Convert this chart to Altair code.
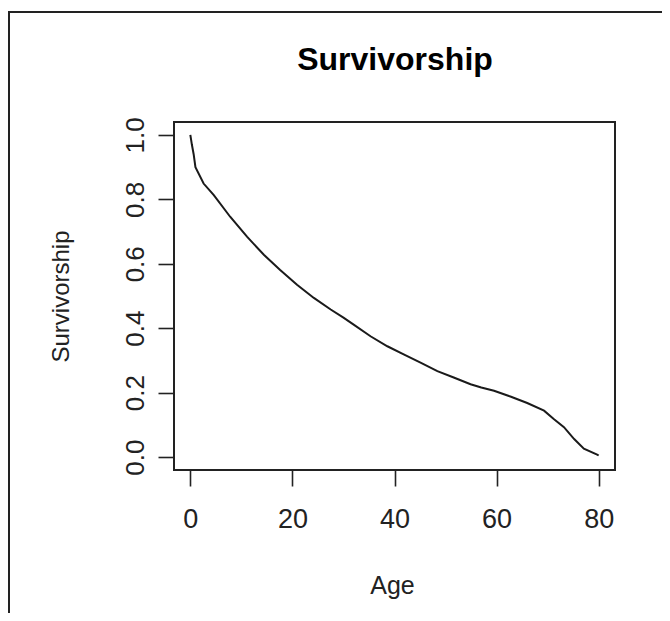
import altair as alt
import pandas as pd

# ---- data ----
ages = [0, 0.3, 0.65, 1.0, 2.6, 4.6, 7.8, 11.1, 14.4, 17.6, 20.9, 24.2, 27.5,
        30.0, 32.0, 35.3, 38.6, 41.8, 45.1, 48.4, 51.6, 54.9, 57.0, 59.5,
        62.7, 66.0, 69.3, 71.2, 73.2, 75.2, 77.1, 79.7, 80.0]
survivorship = [1.0, 0.97, 0.94, 0.90, 0.849, 0.813, 0.746, 0.684, 0.628,
                0.581, 0.535, 0.494, 0.458, 0.433, 0.411, 0.375, 0.344, 0.319,
                0.293, 0.267, 0.247, 0.226, 0.216, 0.206, 0.188, 0.168, 0.144,
                0.118, 0.093, 0.056, 0.026, 0.008, 0.005]
x_ticks = [0, 20, 40, 60, 80]
y_ticks = [0.0, 0.2, 0.4, 0.6, 0.8, 1.0]
chart_title = "Survivorship"
x_title = "Age"
y_title = "Survivorship"

df = pd.DataFrame({"Age": ages, "Survivorship": survivorship})
frame_df = pd.DataFrame({"k": [0]})

W, H = 441, 348
PL, PT, PR, PB = 166, 114, 47, 143
FONT = "Liberation Sans"

line = alt.Chart(df).mark_line(color="#1a1a1a", strokeWidth=2).encode(
    x=alt.X(
        "Age:Q",
        scale=alt.Scale(domain=[-3.2, 83.2], nice=False, zero=False),
        axis=alt.Axis(
            values=x_ticks, title=x_title, format="d",
            labelFontSize=27, labelPadding=20, labelColor="#222",
            titleFontSize=25, titleColor="#222", titleFontWeight="normal",
            titleBaseline="alphabetic", titleX=218, titleY=123, titleAlign="center",
        ),
    ),
    y=alt.Y(
        "Survivorship:Q",
        scale=alt.Scale(domain=[-0.04, 1.04], nice=False, zero=False),
        axis=alt.Axis(
            values=y_ticks, title=y_title, format=".1f",
            labelAngle=270, labelAlign="center", labelBaseline="alphabetic",
            labelFontSize=26, labelPadding=15, labelColor="#222",
            titleFontSize=24, titleColor="#222", titleFontWeight="normal",
            titleAngle=270, titleBaseline="alphabetic", titleAlign="center",
            titleX=-106, titleY=174,
        ),
    ),
)

title_mark = alt.Chart(frame_df).mark_text(
    font=FONT, fontSize=32, fontWeight="bold", color="#000",
    align="center", baseline="alphabetic",
).encode(x=alt.value(221), y=alt.value(-52), text=alt.value(chart_title))

left_border = alt.Chart(frame_df).mark_rule(color="#222", strokeWidth=2).encode(
    x=alt.value(-165), y=alt.value(-110), y2=alt.value(H + PB)
)
top_border = alt.Chart(frame_df).mark_rule(color="#222", strokeWidth=2).encode(
    x=alt.value(-166), x2=alt.value(W + PR), y=alt.value(-110)
)

chart = (
    alt.layer(line, title_mark, left_border, top_border)
    .properties(
        width=W,
        height=H,
        autosize=alt.AutoSizeParams(type="none"),
        padding={"left": PL, "top": PT, "right": PR, "bottom": PB},
        background="white",
    )
    .configure_view(stroke="#222", strokeWidth=2)
    .configure_axis(
        domain=False, grid=False, ticks=True, tickSize=16, tickWidth=1.6,
        tickColor="#222", labelFont=FONT, titleFont=FONT,
    )
)

chart.save("out.html", embed_options={"renderer": "svg", "actions": False})
